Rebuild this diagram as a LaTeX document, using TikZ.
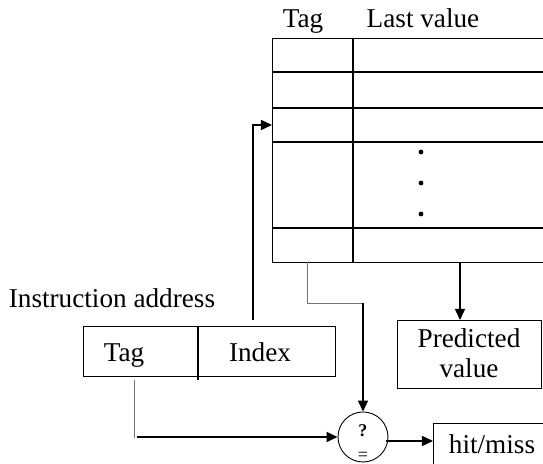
\documentclass[tikz,border=0pt]{standalone}
\usepackage{fontspec}
\setmainfont{Liberation Serif}
\usetikzlibrary{arrows.meta}
\begin{document}
\begin{tikzpicture}[x=0.5pt,y=-0.5pt,
  ln/.style={line width=0.75pt},
  gr/.style={line width=0.45pt, black!55},
  arr/.style={ln,-{Triangle[length=5.5pt,width=5pt]}},
  lbl/.style={font=\fontsize{13.6}{14}\selectfont, inner sep=0pt, anchor=base},
  box/.style={draw, ln, rectangle, inner sep=0pt, anchor=north west}]
\useasboundingbox (0,0) rectangle (543,464);
\clip (0,0) rectangle (543,464);
% table
\node[box, minimum width=170pt, minimum height=112pt] (tbl) at (272,38) {};
\draw[ln] (353,38) -- (353,262);
\foreach \y in {72,108,142,228} \draw[ln] (272,\y) -- (620,\y);
\foreach \y in {152,183,214} \fill (421,\y) circle (2.4);
\node[lbl] (hTag) at (303,28) {Tag};
\node[lbl] (hLast) at (423,28) {Last value};
% instruction address
\node[lbl] (ia) at (112,308) {Instruction address};
\node[box, minimum width=126pt, minimum height=25pt] (addr) at (83,326) {};
\draw[ln] (198,326) -- (198,380);
\node[lbl] (tagf) at (124,362) {Tag};
\node[lbl] (idxf) at (260,362) {Index};
% predicted value
\node[box, minimum width=72pt, minimum height=34pt] (pred) at (397,320) {};
\node[lbl] (predt) at (469,348) {Predicted};
\node[lbl] (predv) at (469,378) {value};
% comparator
\node[draw, circle, line width=0.45pt, minimum size=25pt, inner sep=0pt] (cmp) at (363,437) {};
\node[inner sep=0pt, anchor=base, font=\fontsize{9}{10}\selectfont\bfseries] (q) at (363,437) {?};
\node[inner sep=0pt, anchor=base, font=\fontsize{9}{10}\selectfont] (eq) at (363,461) {=};
% hit/miss
\node[box, minimum width=80pt, minimum height=30pt] (hm) at (433,423) {};
\node[lbl] (hmt) at (492,454) {hit/miss};
% connectors
\coordinate (rowin) at (272,125);
\coordinate (idxtop) at (253,320);
\draw[arr] (idxtop) |- (rowin);
\coordinate (ttag) at (307,262);
\coordinate (tcorner) at (363,303);
\draw[gr] (ttag) |- (tcorner);
\draw[arr] (tcorner) -- (cmp.north);
\coordinate (tval) at (460,262);
\draw[arr] (tval) -- (tval |- pred.north);
\coordinate (tagbot) at (134,380);
\coordinate (tagturn) at (134,438);
\draw[gr] (tagbot) -- (tagturn);
\coordinate (tagstart) at (137,437);
\draw[arr] (tagstart) -- (cmp.west);
\coordinate (cmpout) at (386,441);
\draw[arr] (cmpout) -- (cmpout -| hm.west);
\end{tikzpicture}
\end{document}
